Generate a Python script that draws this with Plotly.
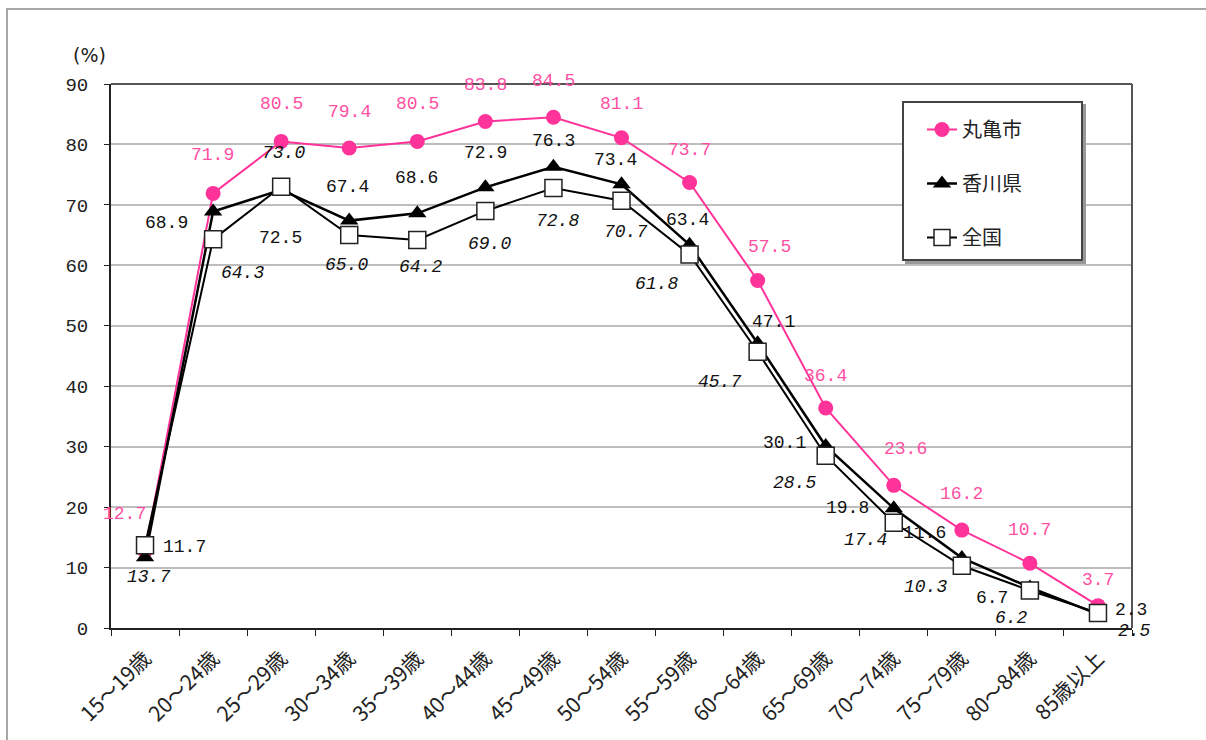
import plotly.graph_objects as go

# 年齢階級別 労働力率
age_groups = ["15～19歳", "20～24歳", "25～29歳", "30～34歳", "35～39歳",
              "40～44歳", "45～49歳", "50～54歳", "55～59歳", "60～64歳",
              "65～69歳", "70～74歳", "75～79歳", "80～84歳", "85歳以上"]
marugame = [12.7, 71.9, 80.5, 79.4, 80.5, 83.8, 84.5, 81.1, 73.7, 57.5, 36.4, 23.6, 16.2, 10.7, 3.7]
kagawa = [11.7, 68.9, 72.5, 67.4, 68.6, 72.9, 76.3, 73.4, 63.4, 47.1, 30.1, 19.8, 11.6, 6.7, 2.3]
zenkoku = [13.7, 64.3, 73.0, 65.0, 64.2, 69.0, 72.8, 70.7, 61.8, 45.7, 28.5, 17.4, 10.3, 6.2, 2.5]
y_ticks = [0, 10, 20, 30, 40, 50, 60, 70, 80, 90]

# label offsets in pixels (dx right, dy down) relative to each marker
off_marugame = [(-21, -37), (-1, -38), (0, -37), (0, -36), (0, -37), (0, -36), (0, -36), (0, -34),
                (0, -33), (12, -33), (0, -32), (12, -36), (0, -36), (0, -33), (0, -26)]
off_kagawa = [(39, -10), (-47, 11), (-1, 48), (-2, -34), (-1, -35), (0, -34), (0, -26), (-6, -24),
              (-2, -25), (16, -21), (-41, -3), (-46, 0), (-37, -25), (-38, 10), (33, -4)]
off_zenkoku = [(3, 32), (29, 34), (2, -34), (-3, 30), (3, 27), (4, 33), (4, 33), (4, 31),
               (-33, 30), (-38, 30), (-31, 27), (-28, 17), (-36, 21), (-18, 27), (37, 18)]

W, H = 1206, 740
L, R, T, B = 111, 1132, 84, 628


def px(x):
    return (x - L) / (R - L)


def py(y):
    return (B - y) / (B - T)


PINK = "#ff3399"
PINK_TXT = "#ff4fa3"

fig = go.Figure()
fig.add_trace(go.Scatter(
    x=age_groups, y=marugame, name="丸亀市", mode="lines+markers",
    line=dict(color=PINK, width=2),
    marker=dict(symbol="circle", size=15, color=PINK, line=dict(width=0)),
    legendgroup="a"))
fig.add_trace(go.Scatter(
    x=age_groups, y=kagawa, name="香川県", mode="lines+markers",
    line=dict(color="black", width=2.5),
    marker=dict(symbol="triangle-up", size=16, color="black", line=dict(width=0)),
    legendgroup="b"))
fig.add_trace(go.Scatter(
    x=age_groups, y=zenkoku, name="全国", mode="lines+markers",
    line=dict(color="black", width=2),
    marker=dict(symbol="square", size=17, color="white", line=dict(color="#222", width=1.5)),
    legendgroup="c"))

annotations = []
label_font = dict(family="Liberation Mono, DejaVu Sans Mono, monospace", size=18)
for vals, offs, color, italic in [(marugame, off_marugame, PINK_TXT, False),
                                  (kagawa, off_kagawa, "#111", False),
                                  (zenkoku, off_zenkoku, "#111", True)]:
    for cat, v, (dx, dy) in zip(age_groups, vals, offs):
        f = dict(label_font, color=color)
        if italic:
            f.update(style="italic", size=18)
        annotations.append(dict(x=cat, y=v, xref="x", yref="y", text=f"{v:.1f}",
                                showarrow=False, xshift=dx, yshift=-dy, font=f))

annotations.append(dict(x=px(71), y=py(42), xref="paper", yref="paper", text="(%)",
                        showarrow=False, font=dict(family="DejaVu Sans, sans-serif", size=19, color="#222")))

shapes = [
    # outer frame
    dict(type="rect", xref="paper", yref="paper", x0=px(7), x1=px(1215), y0=py(9), y1=py(760),
         line=dict(color="#8a8a8a", width=1.5), layer="below"),
    # plot area border (top / right)
    dict(type="line", xref="paper", yref="paper", x0=0, x1=1, y0=1, y1=1, line=dict(color="#555", width=2)),
    dict(type="line", xref="paper", yref="paper", x0=1, x1=1, y0=0, y1=1, line=dict(color="#555", width=2)),
    # legend box shadow and frame
    dict(type="rect", xref="paper", yref="paper", x0=px(906), x1=px(1085), y0=py(105), y1=py(263),
         line=dict(color="#999", width=2), fillcolor="#999", layer="above"),
    dict(type="rect", xref="paper", yref="paper", x0=px(903), x1=px(1082), y0=py(102), y1=py(260),
         line=dict(color="#444", width=2), fillcolor="white", layer="above"),
]

fig.update_layout(
    width=W, height=H,
    margin=dict(l=L, r=W - R, t=T, b=H - B),
    paper_bgcolor="white", plot_bgcolor="white",
    font=dict(family="Noto Sans CJK JP", color="#222"),
    showlegend=True,
    legend=dict(x=px(922), y=py(110), xanchor="left", yanchor="top",
                bgcolor="rgba(0,0,0,0)", borderwidth=0,
                font=dict(family="Noto Sans CJK JP", size=20, color="#222"),
                tracegroupgap=25, traceorder="grouped"),
    annotations=annotations,
    shapes=shapes,
)
fig.update_xaxes(type="category", range=[-0.5, 14.5], showgrid=False,
                 showline=True, linecolor="#222", linewidth=2,
                 ticks="outside", ticklen=6, tickcolor="#222", tickson="boundaries",
                 tickangle=-45, ticklabelstandoff=8,
                 tickfont=dict(family="Noto Sans CJK JP", size=21, color="#222"))
fig.update_yaxes(range=[0, 90], tickvals=y_ticks, showgrid=True, gridcolor="#bdbdbd", gridwidth=2,
                 showline=True, linecolor="#222", linewidth=2, zeroline=False,
                 ticks="outside", ticklen=5, tickcolor="#222", ticklabelstandoff=12,
                 tickfont=dict(family="Liberation Mono, monospace", size=19, color="#222"))

fig.write_html("out.html")
